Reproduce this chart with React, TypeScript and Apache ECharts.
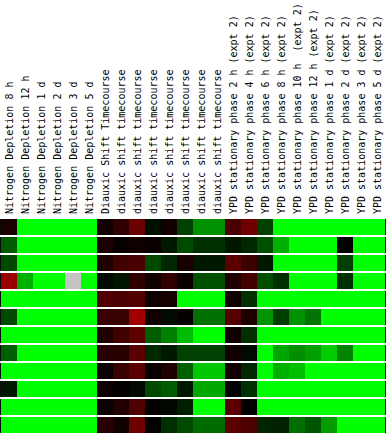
import React, { useEffect, useRef } from "react";
import * as echarts from "echarts";

// Column (experiment) labels
const columnLabels: string[] = [
  "Nitrogen Depletion 8 h",
  "Nitrogen Depletion 12 h",
  "Nitrogen Depletion 1 d",
  "Nitrogen Depletion 2 d",
  "Nitrogen Depletion 3 d",
  "Nitrogen Depletion 5 d",
  "Diauxic Shift Timecourse",
  "diauxic shift timecourse",
  "diauxic shift timecourse",
  "diauxic shift timecourse",
  "diauxic shift timecourse",
  "diauxic shift timecourse",
  "diauxic shift timecourse",
  "diauxic shift timecourse",
  "YPD stationary phase 2 h (expt 2)",
  "YPD stationary phase 4 h (expt 2)",
  "YPD stationary phase 6 h (expt 2)",
  "YPD stationary phase 8 h (expt 2)",
  "YPD stationary phase 10 h  (expt 2)",
  "YPD stationary phase 12 h (expt 2)",
  "YPD stationary phase 1 d (expt 2)",
  "YPD stationary phase 2 d (expt 2)",
  "YPD stationary phase 3 d (expt 2)",
  "YPD stationary phase 5 d (expt 2)",
];

const rowIds: string[] = ["1", "2", "3", "4", "5", "6", "7", "8", "9", "10", "11", "12"];

// Log ratios (positive = red / induced, negative = green / repressed, null = missing)
const row01 = [0.31, -3, -3, -3, -3, -3, 0.21, 0.56, 1.25, -0.19, 0.21, -0.75, -1.69, -1.69, 0.85, 1.32, -0.75, -3, -3, -3, -3, -3, -3, -3];
const row02 = [-1.06, -3, -3, -3, -3, -3, 0.31, 0.07, 0.19, 0.12, -0.28, -0.87, -0.56, -0.56, -0.28, -0.47, -0.94, -2.07, -3, -3, -3, 0, -3, -3];
const row03 = [-0.87, -3, -3, -3, -3, -3, 0.38, 0.75, 0.85, -0.87, -0.47, 0.28, -0.28, -0.28, 1.06, 0.71, -0.28, -3, -3, -3, -3, -0.75, -3, -3];
const row04 = [1.8, -2.07, -3, -3, null, -3, -0.12, -0.26, 0.56, 0.19, 0.56, 0.12, -0.94, -0.94, 0.38, 0.8, -0.92, -0.56, -3, -3, -3, -0.56, -3, -3];
const row05 = [-3, -3, -3, -3, -3, -3, 0.94, 0.87, 0.94, 0.16, 0.27, -3, -3, -3, 0.2, -0.56, -3, -3, -3, -3, -3, -3, -3, -3];
const row06 = [-0.87, -3, -3, -3, -3, -3, 0.66, 0.66, 1.88, 0.19, -0.12, 0.05, -1.32, -1.32, 0.99, 0.33, -1.74, -0.73, -1.72, -1.35, -3, -3, -3, -3];
const row07 = [-3, -3, -3, -3, -3, -3, 0.38, 0.75, 1.08, -1.08, -1.51, -2.21, -3, -3, 0.19, -0.56, -3, -3, -3, -3, -3, -3, -3, -3];
const row08 = [-1.13, -3, -3, -3, -3, -3, 0.47, 0.47, 1.06, -0.47, -0.28, -0.75, -0.75, -0.75, 0.19, -0.12, -3, -1.95, -1.67, -1.88, -2.4, -1.55, -3, -3];
const row09 = [-3, -3, -3, -3, -3, -3, 0.14, 0.66, 1.06, 0.09, 0.38, -1.13, -2.35, -2.35, 0.21, -0.47, -3, -2.07, -2.26, -3, -3, -3, -3, -3];
const row10 = [-0.28, -3, -3, -3, -3, -3, 0.19, 0.05, -0.12, -0.87, -1.06, -0.28, -1.98, -1.98, 0, -0.56, -3, -3, -3, -3, -3, -3, -3, -3];
const row11 = [-3, -3, -3, -3, -3, -3, 0.14, 0.38, 0.94, 0.05, -0.09, -0.35, -3, -3, 1.06, 0, -3, -3, -3, -3, -3, -3, -3, -3];
const row12 = [-3, -3, -3, -3, -3, -3, 0.47, 0.19, 1.32, 0, -0.56, -0.87, -1.27, -1.27, 1.06, 0.89, -0.42, -0.38, -1.29, -1.01, -1.84, -3, -3, -3];

const rows = [row01, row02, row03, row04, row05, row06, row07, row08, row09, row10, row11, row12];

export default function App() {
  const ref = useRef<HTMLDivElement>(null);

  useEffect(() => {
    document.body.style.margin = "0";
    if (!ref.current) return;
    const chart = echarts.init(ref.current, null, { renderer: "svg" });

    const data: any[] = [];
    rows.forEach((r, yi) => {
      r.forEach((v, xi) => {
        data.push([xi, yi, v === null ? "-" : v]);
      });
    });

    const lastCol = columnLabels.length - 1;

    chart.setOption({
      animation: false,
      backgroundColor: "#ffffff",
      grid: { left: 1, right: 1, top: 219, height: 216, containLabel: false },
      xAxis: {
        type: "category",
        position: "top",
        data: columnLabels,
        axisLine: { show: false },
        axisTick: { show: false },
        splitLine: { show: false },
        axisLabel: {
          interval: 0,
          rotate: -90,
          align: "left",
          verticalAlign: "middle",
          margin: 5,
          color: "#000000",
          fontFamily: "DejaVu Sans Mono",
          fontSize: 10,
        },
      },
      yAxis: {
        type: "category",
        data: rowIds,
        inverse: true,
        show: false,
      },
      visualMap: {
        type: "continuous",
        show: false,
        min: -3,
        max: 3,
        dimension: 2,
        seriesIndex: 0,
        inRange: { color: ["#00ff00", "#000000", "#ff0000"] },
      },
      series: [
        {
          type: "custom",
          data,
          encode: { x: 0, y: 1 },
          renderItem: (params: any, api: any) => {
            const xi = api.value(0);
            const yi = api.value(1);
            const v = api.value(2);
            const c = api.coord([xi, yi]);
            const s = api.size([1, 1]);
            const x = c[0] - s[0] / 2;
            const y = c[1] - s[1] / 2;
            const h = s[1] - 2;
            const missing = v === "-" || v === null || isNaN(Number(v));
            const fill = missing ? "#c3c3c3" : api.visual("color");
            const children: any[] = [
              { type: "rect", shape: { x, y, width: s[0], height: h }, style: { fill } },
            ];
            if (xi === 0) {
              children.push({ type: "rect", shape: { x: x - 1, y, width: 1, height: h }, style: { fill: "#0a0a0a" } });
            }
            if (xi === lastCol) {
              children.push({ type: "rect", shape: { x: x + s[0], y, width: 1, height: h }, style: { fill: "#0a0a0a" } });
            }
            return { type: "group", children };
          },
        },
      ],
    });

    return () => chart.dispose();
  }, []);

  return <div ref={ref} style={{ width: 386, height: 436 }} />;
}
